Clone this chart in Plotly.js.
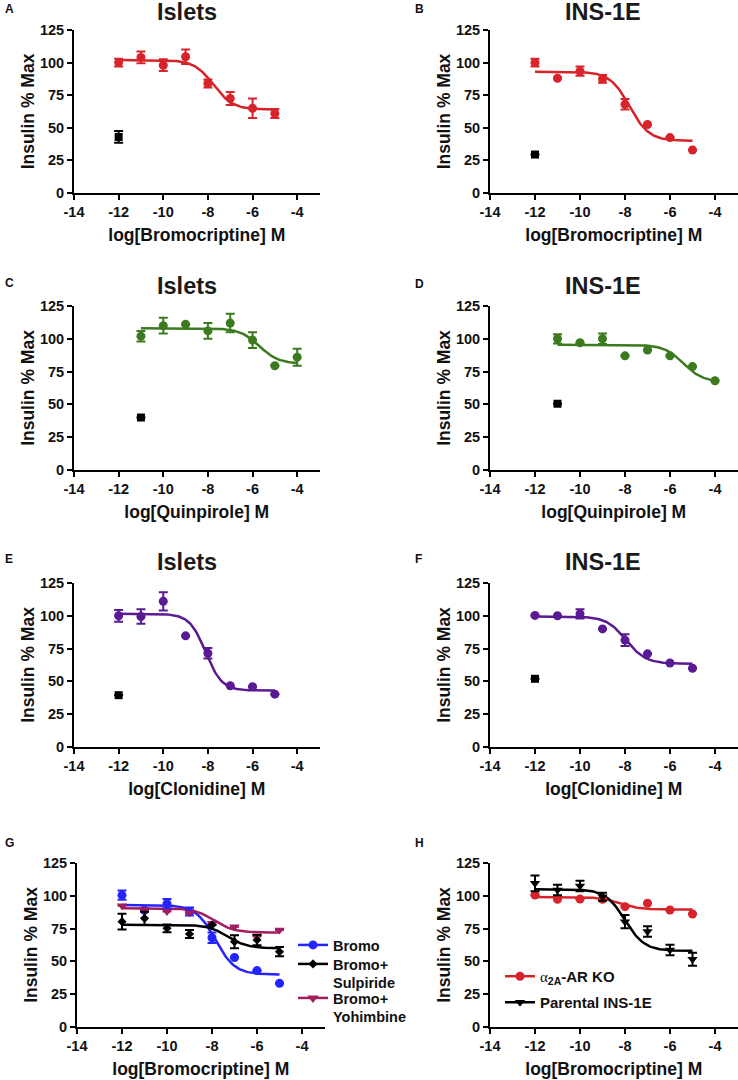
<!DOCTYPE html>
<html><head><meta charset="utf-8">
<script src="https://cdn.plot.ly/plotly-3.0.1.min.js"></script>
<style>html,body{margin:0;padding:0;background:#fff;}#chart{width:738px;height:1080px;}</style>
</head><body><div id="chart"></div>
<script>
// ---------- data ----------
const dosesA = [-12,-11,-10,-9,-8,-7,-6,-5];
const isletBromoY   = [100,104,98,104.5,84,72.5,65,61];
const isletBromoErr = [3,4.5,4.5,5.5,3,5,7.5,3.5];
const isletBromoCtrl = [-12, 43, 4.5];           // x, y, err
const isletBromoFit  = [102, 64, -7.75, 1.0];    // top, bottom, logEC50, hill

const insBromoY   = [100,88,93.5,87.5,68,52.5,42.5,33];
const insBromoErr = [3,null,3.5,3,4,null,null,null];
const insBromoCtrl = [-12, 29.5, null];
const insBromoFit  = [93, 40, -7.8, 1.0];

const dosesQ = [-11,-10,-9,-8,-7,-6,-5,-4];
const isletQuinY   = [102,110,111,106,112,99,79.5,86];
const isletQuinErr = [4,6,null,6,7,6,null,6.5];
const isletQuinCtrl = [-11, 40, null];
const isletQuinFit  = [108, 81, -5.7, 1.0];

const insQuinY   = [100,97,100,87,91.5,87,78.8,68];
const insQuinErr = [3.5,null,4,null,null,null,null,null];
const insQuinCtrl = [-11, 50.5, null];
const insQuinFit  = [95.5, 67, -5.4, 1.0];

const isletClonY   = [100,99.5,111,84.7,71.4,46.7,46,40.3];
const isletClonErr = [4.5,5.5,7,null,4,null,null,null];
const isletClonCtrl = [-12, 39.5, null];
const isletClonFit  = [101.5, 43, -8.1, 1.2];

const insClonY   = [100.3,100,101.5,90,81.5,71,64,60];
const insClonErr = [null,null,3.5,null,4.5,null,null,null];
const insClonCtrl = [-12, 52, null];
const insClonFit  = [99.5, 63.5, -7.95, 1.0];

const gBromoY   = [100.5,89,94,88,68,53,43,33.3];
const gBromoErr = [3.5,null,3.5,3,4,null,null,null];
const gBromoFit = [93, 40, -7.85, 1.0];
const gSulpY    = [80.3,82.8,75.2,70.9,77.7,65,66.3,57.4];
const gSulpErr  = [6,5,3,3,null,5,4,3.5];
const gSulpFit  = [78, 60, -7.3, 1.0];
const gYohY     = [92.5,89.7,88,87,79,76.5,69,74];
const gYohErr   = [null,null,null,null,null,null,null,null];
const gYohFit   = [90.5, 72, -7.9, 1.0];

const hKoY      = [100.6,97.3,97.5,97.3,91.7,94.3,89.2,86.1];
const hKoFit    = [99, 89.5, -8.2, 1.0];
const hParY     = [109.5,104.4,107.5,99.3,80.3,72.7,58.7,51.6];
const hParErr   = [6,4,4,3,5,4,4,5];
const hParFit   = [105, 58, -8.0, 1.0];

const panelTitles = ['Islets','INS-1E','Islets','INS-1E','Islets','INS-1E'];
const panelLetters = ['A','B','C','D','E','F','G','H'];
const xTitles = ['log[Bromocriptine] M','log[Bromocriptine] M','log[Quinpirole] M','log[Quinpirole] M',
                 'log[Clonidine] M','log[Clonidine] M','log[Bromocriptine] M','log[Bromocriptine] M'];
const yTitle = 'Insulin % Max';
const xTickVals = [-14,-12,-10,-8,-6,-4];
const xTickText = ['-14','-12','-10','-8','-6','-4'];
const yTickVals = [0,25,50,75,100,125];
const yTickText = ['0','25','50','75','100','125'];
const legendG = ['Bromo','Bromo+<br>Sulpiride','Bromo+<br>Yohimbine'];
const legendH = ['<span style="font-family:\'Liberation Serif\',serif;font-weight:normal">α</span><sub>2A</sub>-AR KO','Parental INS-1E'];

// ---------- styling ----------
const RED='#d7242b', GREEN='#3b7a1f', PURPLE='#5a1a94', BLUE='#2424ff', MAG='#a21d5e', BLK='#000000';
const FONT = 'Liberation Sans, Arial, sans-serif';
const W=738, H=1080;

function fitCurve(fit, x0, x1){
  const xs=[], ys=[]; const n=140;
  for(let i=0;i<=n;i++){
    const x = x0 + (x1-x0)*i/n;
    xs.push(x);
    ys.push(fit[1] + (fit[0]-fit[1])/(1+Math.pow(10,(x-fit[2])*fit[3])));
  }
  return {xs, ys};
}

const traces=[];
function ax(i){ return i===1 ? ['x','y'] : ['x'+i,'y'+i]; }
function addPoints(i, xs, ys, errs, color, symbol, size, name){
  const [xa,ya]=ax(i);
  traces.push({type:'scatter', mode:'markers', x:xs, y:ys, xaxis:xa, yaxis:ya, showlegend:false, name:name||'',
    marker:{color:color, size:size, symbol:symbol},
    error_y:{type:'data', array:errs, visible:true, color:color, thickness:2, width:4.5},
    cliponaxis:false});
}
function addCurve(i, fit, x0, x1, color){
  const [xa,ya]=ax(i);
  const c = fitCurve(fit,x0,x1);
  traces.push({type:'scatter', mode:'lines', x:c.xs, y:c.ys, xaxis:xa, yaxis:ya, showlegend:false,
    line:{color:color, width:2.5}, hoverinfo:'skip'});
}
function addCtrl(i, ctrl){
  addPoints(i, [ctrl[0]], [ctrl[1]], [ctrl[2]], BLK, 'square', 8, 'control');
}
function addLegendItem(i, name, color, symbol, size, legendId){
  const [xa,ya]=ax(i);
  traces.push({type:'scatter', mode:'lines+markers', x:[null], y:[null], xaxis:xa, yaxis:ya, name:name,
    showlegend:true, legend:legendId, line:{color:color,width:2.5}, marker:{color:color,symbol:symbol,size:size}});
}

// A
addCurve(1, isletBromoFit, -12, -5, RED);
addPoints(1, dosesA, isletBromoY, isletBromoErr, RED, 'circle', 9);
addCtrl(1, isletBromoCtrl);
// B
addCurve(2, insBromoFit, -12, -5, RED);
addPoints(2, dosesA, insBromoY, insBromoErr, RED, 'circle', 9);
addCtrl(2, insBromoCtrl);
// C
addCurve(3, isletQuinFit, -11, -4, GREEN);
addPoints(3, dosesQ, isletQuinY, isletQuinErr, GREEN, 'circle', 9);
addCtrl(3, isletQuinCtrl);
// D
addCurve(4, insQuinFit, -11, -4, GREEN);
addPoints(4, dosesQ, insQuinY, insQuinErr, GREEN, 'circle', 9);
addCtrl(4, insQuinCtrl);
// E
addCurve(5, isletClonFit, -12, -5, PURPLE);
addPoints(5, dosesA, isletClonY, isletClonErr, PURPLE, 'circle', 9);
addCtrl(5, isletClonCtrl);
// F
addCurve(6, insClonFit, -12, -5, PURPLE);
addPoints(6, dosesA, insClonY, insClonErr, PURPLE, 'circle', 9);
addCtrl(6, insClonCtrl);
// G
addCurve(7, gBromoFit, -12, -5, BLUE);
addCurve(7, gYohFit, -12, -5, MAG);
addCurve(7, gSulpFit, -12, -5, BLK);
addPoints(7, dosesA, gBromoY, gBromoErr, BLUE, 'circle', 9);
addPoints(7, dosesA, gYohY, gYohErr, MAG, 'triangle-down', 9);
addPoints(7, dosesA, gSulpY, gSulpErr, BLK, 'diamond', 7);
addLegendItem(7, legendG[0], BLUE, 'circle', 9, 'legend');
addLegendItem(7, legendG[1], BLK, 'diamond', 7, 'legend3');
addLegendItem(7, legendG[2], MAG, 'triangle-down', 10, 'legend4');
// H
addCurve(8, hKoFit, -12, -5, RED);
addCurve(8, hParFit, -12, -5, BLK);
addPoints(8, dosesA, hKoY, hKoY.map(()=>null), RED, 'circle', 9);
addPoints(8, dosesA, hParY, hParErr, BLK, 'triangle-down', 9);
addLegendItem(8, legendH[0], RED, 'circle', 9, 'legend2');
addLegendItem(8, legendH[1], BLK, 'triangle-down', 9, 'legend5');

// ---------- layout ----------
const colX = [[74,319.5],[490,737.5],[74,319.5],[490,737.5],[74,319.5],[490,737.5],[77,324.5],[490,737.5]];
const rowY = [[30,193],[30,193],[306,470],[306,470],[583,747],[583,747],[863,1027],[863,1027]];
function legendBox(left, top, size){
  return {x:left/W, y:1-top/H, xanchor:'left', yanchor:'top', bgcolor:'rgba(0,0,0,0)', valign:'top',
    font:{family:FONT, size:size, color:'#111', weight:'bold'}, itemwidth:30};
}
const layout = {
  width:W, height:H, margin:{l:0,r:0,t:0,b:0}, paper_bgcolor:'#fff', plot_bgcolor:'rgba(0,0,0,0)',
  font:{family:FONT, color:'#111', size:14.5, weight:'bold'},
  annotations:[],
  legend:  legendBox(293, 929, 14.5),
  legend3: legendBox(293, 948, 14.5),
  legend4: legendBox(293, 982, 14.5),
  legend2: legendBox(500, 960, 15),
  legend5: legendBox(500, 986, 15),
  showlegend:true
};
for(let i=1;i<=8;i++){
  const xk = i===1?'xaxis':'xaxis'+i, yk = i===1?'yaxis':'yaxis'+i;
  const xa = ax(i);
  layout[xk] = {domain:[colX[i-1][0]/W, colX[i-1][1]/W], range:[-14,-3], anchor:xa[1],
    tickvals:xTickVals, ticktext:xTickText, ticks:'outside', ticklen:5, tickwidth:2, tickcolor:'#000',
    showline:true, linewidth:2, linecolor:'#000', showgrid:false, zeroline:false, fixedrange:true,
    tickfont:{family:FONT,size:14.5,color:'#111',weight:'bold'},
    title:{text:xTitles[i-1], font:{family:FONT,size:17.5,color:'#111',weight:'bold'}, standoff:9}};
  layout[yk] = {domain:[1-rowY[i-1][1]/H, 1-rowY[i-1][0]/H], range:[0,125], anchor:xa[0],
    tickvals:yTickVals, ticktext:yTickText, ticks:'outside', ticklen:5, tickwidth:2, tickcolor:'#000',
    showline:true, linewidth:2, linecolor:'#000', showgrid:false, zeroline:false, fixedrange:true,
    tickfont:{family:FONT,size:14.5,color:'#111',weight:'bold'},
    title:{text:yTitle, font:{family:FONT,size:17.5,color:'#111',weight:'bold'}, standoff:1}};
}
// panel titles
const titlePos = [[187,12],[603,12],[187,286],[603,286],[187,562],[603,562]];
panelTitles.forEach((t,k)=>{
  layout.annotations.push({text:t, xref:'paper', yref:'paper', x:titlePos[k][0]/W, y:1-titlePos[k][1]/H,
    xanchor:'center', yanchor:'middle', showarrow:false, font:{family:FONT,size:23.5,color:'#1a1a1a',weight:'bold'}});
});
// panel letters
const letterPos = [[3,9],[413,9],[3,283],[413,284],[3,559],[413,559],[3,842.5],[413,842.5]];
panelLetters.forEach((t,k)=>{
  layout.annotations.push({text:t, xref:'paper', yref:'paper', x:letterPos[k][0]/W, y:1-letterPos[k][1]/H,
    xanchor:'left', yanchor:'middle', showarrow:false, font:{family:FONT,size:12,color:'#111',weight:'bold'}});
});

Plotly.newPlot('chart', traces, layout, {staticPlot:true, displayModeBar:false});
</script></body></html>
